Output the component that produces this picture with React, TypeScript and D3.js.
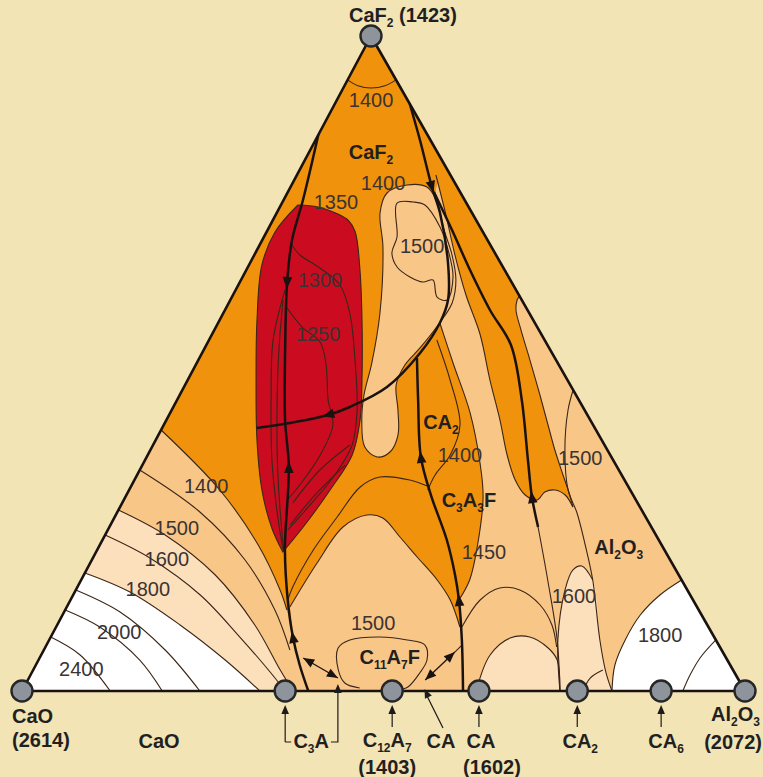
import React from 'react';
import * as d3 from 'd3';

// Compositions are [r, f]: r = 100·Al2O3/(CaO+Al2O3), f = CaF2 content, both in %.
type P = [number, number];

const W = 763;
const H = 777;

const fScale = d3.scaleLinear().domain([0, 100]).range([691, 36]);
const leftX = d3.scaleLinear().domain([0, 100]).range([22, 371]);
const rightX = d3.scaleLinear().domain([0, 100]).range([745, 371]);

function proj([r, f]: P): [number, number] {
  const xl = leftX(f);
  const xr = rightX(f);
  return [xl + (r / 100) * (xr - xl), fScale(f)];
}

// ---- compounds on the CaO–Al2O3 join (and the CaF2 apex) ----
const compounds = [
  { name: 'CaO', r: 0 },
  { name: 'C3A', r: 36.4 },
  { name: 'C12A7', r: 51.2 },
  { name: 'CA', r: 63.2 },
  { name: 'CA2', r: 76.8 },
  { name: 'CA6', r: 88.4 },
  { name: 'Al2O3', r: 100 },
];
const apex: P = [50, 100];

// ---- isotherms in the CaO field ----
const iso1400CaO: P[] = [[0, 39.85], [18.1, 30.69], [28.2, 22.29], [33.4, 15.42], [35.0, 12.37]];
const iso1450CaO: P[] = [[0, 33.74], [15.7, 27.33], [26.5, 20.0], [33.1, 12.37], [36.3, 6.26]];
const iso1500CaO: P[] = [[0, 27.63], [10.9, 23.82], [22.1, 17.71], [30.4, 10.08], [35.3, 3.21], [37.5, 0]];
const iso1600CaO: P[] = [[0, 23.82], [9.9, 20.31], [20.6, 14.66], [28.5, 8.24], [33.9, 2.9], [36.4, 0]];
const iso1800CaO: P[] = [[0, 18.02], [9.0, 15.11], [18.9, 10.08], [27.1, 4.73], [32.9, 0]];
const iso1900CaO: P[] = [[0, 15.42], [8.8, 12.06], [17.9, 6.26], [24.6, 0]];
const iso2000CaO: P[] = [[0, 12.37], [6.7, 9.77], [14.7, 4.73], [19.4, 0]];
const iso2400CaO: P[] = [[0, 8.24], [5.7, 5.5], [12.2, 0]];

// ---- field boundaries (heavy lines) ----
const bCaF2CaO: P[] = [[0, 84.89], [10.7, 74.96], [13.2, 68.85], [17.5, 62.29], [23.5, 52.06], [28.0, 41.37],
  [31.0, 34.2], [33.1, 21.53], [34.9, 13.89], [36.5, 8.24], [38.0, 3.97], [39.6, 0]];
const bCaF2Arc: P[] = [[100, 89.62], [90.9, 84.12], [84.8, 76.95], [83.6, 72.98], [79.0, 65.34], [74.7, 59.69],
  [70.0, 56.18], [62.3, 51.6], [52.4, 46.41], [43.1, 43.36], [38.0, 42.14], [29.3, 40.92], [21.9, 40.15]];
const bC3A3F: P[] = [[61.2, 50.84], [60.0, 44.43], [59.0, 35.73], [60.1, 29.92], [61.9, 23.05], [62.4, 17.71],
  [62.4, 13.89], [61.9, 7.79], [61.0, 0]];
const bCA2Heavy: P[] = [[84.8, 76.18], [86.1, 70.38], [86.6, 64.27], [87.6, 58.17], [89.3, 52.82], [85.8, 44.43],
  [81.8, 35.27], [79.9, 29.62], [79.1, 25.04]];
const bCA2Light: P[] = [[79.1, 25.04], [77.7, 16.95], [76.2, 7.79], [74.4, 0]];

// ---- primary-field regions ----
const redField: P[] = [[9.1, 74.2], [20.2, 73.89], [31.5, 72.82], [36.9, 71.91], [40.9, 70.15], [44.0, 64.27],
  [45.4, 56.64], [45.9, 47.48], [45.7, 41.37], [44.2, 36.03], [40.1, 30.69], [36.0, 25.34], [32.8, 21.22]];
const redFieldLeft: P[] = [[32.8, 21.22], [30.0, 24.89], [26.5, 30.69], [22.7, 38.32], [18.0, 47.48],
  [11.9, 56.64], [5.1, 65.04], [3.9, 70.08], [9.1, 74.2]];
const ca2Blob: P[] = [[57.5, 76.03], [70.2, 77.25], [81.8, 76.95], [84.3, 74.96], [82.4, 70.38], [81.8, 66.56],
  [79.8, 62.75], [75.8, 59.24], [69.3, 55.88], [62.5, 52.37], [57.6, 49.77], [54.8, 46.72], [54.8, 42.9], [54.4, 39.08],
  [52.4, 36.49], [49.6, 35.73], [46.9, 37.25], [46.1, 41.37], [46.5, 45.19], [48.5, 50.08], [51.2, 57.71],
  [53.4, 67.79], [52.9, 72.98]];
const c12a7Top: P[] = [[35.4, 12.82], [39.0, 19.54], [43.1, 25.04], [47.5, 26.87], [50.5, 26.41], [53.5, 23.51],
  [56.3, 20.46], [59.3, 16.95], [61.0, 13.89], [61.9, 9.77]];
const c3a3fEdge: P[] = [[70.0, 56.18], [71.0, 50.08], [72.1, 42.44], [71.4, 34.81], [70.3, 29.62], [67.1, 21.98],
  [64.7, 16.95], [62.4, 13.89]];
const rightTop: P[] = [[70.0, 56.18], [74.7, 59.69], [79.0, 65.34], [83.6, 72.98], [86.5, 76.5], [100, 80.0]];
const ca2StripeLeft: P[] = [[90.6, 78.78], [86.2, 72.67], [83.0, 66.56], [81.5, 60.46], [81.4, 54.5], [79.6, 47.48],
  [78.7, 41.37], [77.7, 36.03], [77.7, 32.21], [78.7, 29.92], [80.7, 29.16], [82.8, 30.38], [85.0, 30.69],
  [86.6, 29.92], [87.1, 28.09]];
const ca2StripeRight: P[] = [[87.1, 28.09], [87.5, 29.92], [87.9, 32.98], [88.5, 36.79], [89.5, 40.61], [90.9, 45.19],
  [92.7, 50.53], [94.5, 55.11], [96.2, 58.17], [98.4, 59.69], [100, 60.31]];
const paleCA: P[] = [[63.0, 0.46], [65.7, 5.5], [69.2, 8.09], [72.2, 8.24], [74.5, 6.56], [75.3, 4.73], [74.4, 0]];
const paleCA2: P[] = [[74.4, 0], [76.3, 7.79], [80.0, 15.42], [82.5, 18.47], [84.3, 19.08], [85.2, 16.95],
  [82.6, 7.79], [81.7, 2.75], [81.6, 0]];
const al2o3Edge: P[] = [[100, 45.95], [96.0, 42.9], [90.7, 36.79], [87.6, 30.69], [87.4, 27.18], [86.4, 22.29],
  [85.2, 16.95], [82.6, 7.79], [81.7, 2.75], [81.6, 0]];
const white1800: P[] = [[100, 16.95], [95.1, 14.66], [90.4, 11.6], [86.4, 7.79], [83.4, 3.97], [81.6, 0]];

// ---- other isotherms ----
const iso1400Apex: P[] = [[0, 93.3], [24.6, 92.4], [48.3, 92.06], [73.6, 92.4], [100, 93.3]];
const iso1300: P[] = [[14.0, 68.09], [18.9, 66.56], [28.3, 64.58], [37.0, 61.98], [41.5, 57.4], [43.8, 50.53],
  [44.9, 42.9], [44.1, 37.56], [40.8, 32.98], [36.5, 28.4], [33.0, 24.58]];
const iso1250: P[] = [[19.3, 58.93], [26.8, 55.57], [33.2, 53.28], [35.9, 49.77], [37.6, 44.43], [39.4, 40.61],
  [37.3, 36.03], [33.9, 31.45], [31.9, 29.16]];
const isoRedA: P[] = [[43.6, 37.56], [37.6, 33.74], [33.1, 28.7]];
const isoRedB: P[] = [[42.8, 34.5], [37.2, 29.92], [33.3, 25.34]];
const isoRedC: P[] = [[18.1, 59.69], [21.7, 52.06], [25.5, 42.9], [28.8, 33.74], [31.9, 24.58], [32.9, 21.53]];
const isoRedD: P[] = [[17.6, 61.22], [19.1, 53.59], [23.4, 44.43], [27.1, 35.27], [30.9, 26.11], [32.8, 21.53]];
const iso1500Loop: P[] = [[62.4, 74.5], [71.2, 74.66], [77.2, 74.2], [81.0, 70.84], [80.9, 67.33], [79.1, 63.21],
  [74.4, 59.69], [71.2, 60.15], [71.3, 62.75], [67.4, 62.44], [62.9, 63.21], [58.5, 64.73], [57.0, 66.87], [60.0, 69.31]];
const iso1400C3A3F: P[] = [[59.6, 31.3], [56.2, 32.21], [50.1, 32.67], [46.1, 31.15], [41.9, 26.56], [38.1, 21.53],
  [35.4, 15.88], [34.9, 13.89]];
const isoCA2: P[] = [[67.9, 53.59], [69.1, 47.48], [69.0, 40.61], [65.4, 36.03], [61.5, 32.98], [59.6, 30.69]];
const iso1500C11A7F: P[] = [[46.7, 0.46], [44.6, 1.22], [43.6, 3.21], [43.4, 6.56], [45.1, 7.79], [49.6, 8.24],
  [53.7, 7.79], [56.3, 7.02], [56.4, 4.73], [55.2, 2.75], [53.4, 0.61], [52.0, 0.15]];
const isoCAdome: P[] = [[62.2, 9.77], [65.8, 13.89], [69.4, 15.73], [72.6, 15.42], [75.2, 13.13], [76.1, 10.08], [75.8, 6.72]];
const isoCA2small: P[] = [[77.6, 0], [79.2, 1.98], [81.4, 3.21]];
const isoWhite: P[] = [[100, 7.79], [96.2, 5.04], [93.5, 2.44], [91.4, 0]];

// ---- crystallisation paths (double arrows) ----
const pathC3A: P[] = [[38.4, 5.04], [43.6, 1.98]];
const pathCA: P[] = [[55.9, 1.68], [60.6, 5.95]];
const pathCAext: P[] = [[60.6, 5.95], [61.8, 7.02]];

// ---- labels ----
const tempLabels: { t: string; at: P }[] = [
  { t: '1400', at: [48.3, 90.2] },
  { t: '1400', at: [55.7, 77.6] },
  { t: '1350', at: [29.1, 74.7] },
  { t: '1500', at: [70.3, 67.9] },
  { t: '1300', at: [29.3, 62.75] },
  { t: '1250', at: [32.2, 54.5] },
  { t: '1400', at: [67.5, 36.0] },
  { t: '1450', at: [68.1, 21.2] },
  { t: '1500', at: [93.2, 35.6] },
  { t: '1600', at: [81.1, 14.5] },
  { t: '1800', at: [92.0, 8.55] },
  { t: '1500', at: [48.6, 10.4] },
  { t: '1400', at: [15.1, 31.3] },
  { t: '1500', at: [12.5, 24.9] },
  { t: '1600', at: [12.9, 20.15] },
  { t: '1800', at: [11.7, 15.6] },
  { t: '2000', at: [10.0, 9.0] },
  { t: '2400', at: [6.8, 3.4] },
];
const fieldLabels: { t: string; at: P }[] = [
  { t: 'CaF_2', at: [48.3, 82.3] },
  { t: 'CA_2', at: [64.7, 41.1] },
  { t: 'C_3A_3F', at: [67.4, 29.2] },
  { t: 'Al_2O_3', at: [92.2, 22.0] },
  { t: 'C_{11}A_7F', at: [51.0, 5.2] },
];

const COLORS = {
  bg: '#F2E4B5',
  orange: '#F0920B',
  tan: '#F8C687',
  pale: '#FCDFBB',
  white: '#FFFFFF',
  red: '#CB0B1F',
  thin: '#3a2618',
  heavy: '#1a1210',
  node: '#8E949B',
  text: '#3b3333',
  label: '#231f1f',
};
const FONT = "'Liberation Sans', Arial, Helvetica, sans-serif";

const px = (p: P) => proj(p)[0];
const py = (p: P) => proj(p)[1];
const smoothLine = d3.line<P>().x(px).y(py).curve(d3.curveCatmullRom.alpha(0.5));
const straightLine = d3.line<P>().x(px).y(py).curve(d3.curveLinear);
const closedLine = d3.line<P>().x(px).y(py).curve(d3.curveCatmullRomClosed.alpha(0.5));

type Seg = { pts: P[]; smooth?: boolean };
function region(segs: Seg[]): string {
  let d = '';
  segs.forEach((s, i) => {
    let part = (s.smooth ? smoothLine : straightLine)(s.pts) || '';
    if (i > 0) part = part.replace(/^M/, 'L');
    d += part;
  });
  return d + 'Z';
}

function headPath(x: number, y: number, angle: number, len = 12, half = 4.8): string {
  const c = Math.cos(angle);
  const s = Math.sin(angle);
  const bx = x - c * len;
  const by = y - s * len;
  return `M${x},${y}L${bx - s * half},${by + c * half}L${bx + s * half},${by - c * half}Z`;
}

function arrowOn(pts: P[], i: number, dir: 1 | -1): string {
  const a = proj(pts[Math.max(0, i - 1)]);
  const b = proj(pts[Math.min(pts.length - 1, i + 1)]);
  let ang = Math.atan2(b[1] - a[1], b[0] - a[0]);
  if (dir < 0) ang += Math.PI;
  const [x, y] = proj(pts[i]);
  const c = Math.cos(ang);
  const s = Math.sin(ang);
  return headPath(x + c * 6, y + s * 6, ang);
}

function Formula(props: { text: string; x: number; y: number; size: number; anchor?: string; weight?: string | number; fill?: string }) {
  const { text, x, y, size, anchor = 'middle', weight = 'bold', fill = COLORS.label } = props;
  const parts: { t: string; sub: boolean }[] = [];
  const re = /_\{([^}]+)\}|_(\w)/g;
  let last = 0;
  let m: RegExpExecArray | null;
  while ((m = re.exec(text))) {
    if (m.index > last) parts.push({ t: text.slice(last, m.index), sub: false });
    parts.push({ t: m[1] ?? m[2], sub: true });
    last = re.lastIndex;
  }
  if (last < text.length) parts.push({ t: text.slice(last), sub: false });
  const shift = size * 0.26;
  let wasSub = false;
  return (
    <text x={x} y={y} fontSize={size} fontFamily={FONT} fontWeight={weight} textAnchor={anchor} fill={fill}>
      {parts.map((p, i) => {
        let dy = 0;
        if (p.sub && !wasSub) dy = shift;
        if (!p.sub && wasSub) dy = -shift;
        wasSub = p.sub;
        return (
          <tspan key={i} dy={dy} fontSize={p.sub ? size * 0.6 : size}>
            {p.t}
          </tspan>
        );
      })}
    </text>
  );
}

export default function App() {
  const corners: P[] = [[0, 0], [100, 0], apex];
  const triD = straightLine(corners) + 'Z';

  const redD = region([{ pts: redField, smooth: true }, { pts: redFieldLeft, smooth: true }]);
  const stripeD = region([
    { pts: ca2StripeLeft, smooth: true },
    { pts: ca2StripeRight, smooth: true },
    { pts: [[108, 60.31], [108, 82], [90.6, 78.78]] },
  ]);

  const fills: { d: string; fill: string }[] = [
    { d: triD, fill: COLORS.orange },
    { d: region([{ pts: [...iso1400CaO, [36.5, 8.24], [38.0, 3.97], [39.6, 0]], smooth: true }, { pts: [[39.6, -6], [-8, -6], [-8, 39.85]] }]), fill: COLORS.tan },
    { d: region([{ pts: iso1500CaO, smooth: true }, { pts: [[37.5, -6], [-8, -6], [-8, 27.63]] }]), fill: COLORS.pale },
    { d: region([{ pts: iso1800CaO, smooth: true }, { pts: [[32.9, -6], [-8, -6], [-8, 18.02]] }]), fill: COLORS.white },
    { d: redD, fill: COLORS.red },
    { d: closedLine(ca2Blob) || '', fill: COLORS.tan },
    { d: region([{ pts: c12a7Top, smooth: true }, { pts: [[61.9, 7.79], [61.0, 0], [61.0, -6], [39.6, -6], [39.6, 0], [38.0, 3.97], [36.5, 8.24]] }]), fill: COLORS.tan },
    { d: region([{ pts: rightTop, smooth: true }, { pts: [[108, 80], [108, -6], [61, -6], [61, 0], [61.9, 7.79]] }, { pts: [...c3a3fEdge].reverse(), smooth: true }]), fill: COLORS.tan },
    { d: stripeD, fill: COLORS.orange },
    { d: region([{ pts: paleCA, smooth: true }, { pts: [[74.4, -6], [63, -6]] }]), fill: COLORS.pale },
    { d: region([{ pts: paleCA2, smooth: true }, { pts: [[81.6, -6], [74.4, -6]] }]), fill: COLORS.pale },
    { d: region([{ pts: white1800, smooth: true }, { pts: [[81.6, -6], [108, -6], [108, 16.95]] }]), fill: COLORS.white },
  ];

  const thinOpen: P[][] = [
    iso1400CaO, iso1450CaO, iso1500CaO, iso1600CaO, iso1800CaO, iso1900CaO, iso2000CaO, iso2400CaO,
    iso1400Apex, iso1300, iso1250, isoRedA, isoRedB, isoRedC, isoRedD, iso1400C3A3F, isoCA2,
    iso1500C11A7F, isoCAdome, isoCA2small, isoWhite, c12a7Top, c3a3fEdge, al2o3Edge, white1800,
    paleCA, paleCA2.slice(0, 6), bCA2Light, pathCAext, ca2StripeLeft, ca2StripeRight,
  ];
  const thinClosed: string[] = [redD, closedLine(ca2Blob) || '', closedLine(iso1500Loop) || ''];
  const heavy: P[][] = [bCaF2CaO, bCaF2Arc, bC3A3F, bCA2Heavy];

  const heads: string[] = [
    arrowOn(bCaF2CaO, 3, 1),
    arrowOn(bCaF2CaO, 6, -1),
    arrowOn(bCaF2CaO, 9, -1),
    arrowOn(bCaF2Arc, 2, 1),
    arrowOn(bCaF2Arc, 10, 1),
    arrowOn(bC3A3F, 2, -1),
    arrowOn(bC3A3F, 6, -1),
    arrowOn(bCA2Heavy, 7, -1),
  ];

  const dbl = [pathC3A, pathCA].map((pp) => {
    const a = proj(pp[0]);
    const b = proj(pp[1]);
    const ang = Math.atan2(b[1] - a[1], b[0] - a[0]);
    return {
      line: `M${a[0]},${a[1]}L${b[0]},${b[1]}`,
      h1: headPath(b[0], b[1], ang, 11, 4.5),
      h2: headPath(a[0], a[1], ang + Math.PI, 11, 4.5),
    };
  });

  const base = (r: number) => proj([r, 0])[0];
  const xC3A = base(36.4);
  const xC12A7 = base(51.2);
  const xCA = base(63.2);
  const xCA2 = base(76.8);
  const xCA6 = base(88.4);
  const xPathEnd = proj(pathC3A[1])[0];
  const [caTipX, caTipY] = proj([55.6, 0.9]);

  const annot = '#1d1a1a';
  const up = -Math.PI / 2;

  return (
    <svg width={W} height={H} viewBox={`0 0 ${W} ${H}`} style={{ display: 'block', position: 'absolute', left: 0, top: 0 }}>
      <rect x={0} y={0} width={W} height={H} fill={COLORS.bg} />
      <defs>
        <clipPath id="tri">
          <path d={triD} />
        </clipPath>
      </defs>
      <g clipPath="url(#tri)">
        {fills.map((f, i) => (
          <path key={i} d={f.d} fill={f.fill} stroke="none" />
        ))}
        {thinOpen.map((pts, i) => (
          <path key={'o' + i} d={smoothLine(pts) || ''} fill="none" stroke={COLORS.thin} strokeWidth={1.1} />
        ))}
        {thinClosed.map((d, i) => (
          <path key={'c' + i} d={d} fill="none" stroke={COLORS.thin} strokeWidth={1.1} />
        ))}
        {heavy.map((pts, i) => (
          <path key={'h' + i} d={smoothLine(pts) || ''} fill="none" stroke={COLORS.heavy} strokeWidth={2.5} strokeLinejoin="round" />
        ))}
        {heads.map((d, i) => (
          <path key={'a' + i} d={d} fill={COLORS.heavy} />
        ))}
        {dbl.map((o, i) => (
          <g key={'d' + i}>
            <path d={o.line} stroke={COLORS.heavy} strokeWidth={1.3} fill="none" />
            <path d={o.h1} fill={COLORS.heavy} />
            <path d={o.h2} fill={COLORS.heavy} />
          </g>
        ))}
      </g>
      <path d={triD} fill="none" stroke={COLORS.heavy} strokeWidth={2.6} strokeLinejoin="round" />

      {tempLabels.map((l, i) => {
        const [x, y] = proj(l.at);
        return (
          <text key={'t' + i} x={x} y={y} dy="0.36em" textAnchor="middle" fontFamily={FONT} fontSize={20} fill={COLORS.text}>
            {l.t}
          </text>
        );
      })}
      {fieldLabels.map((l, i) => {
        const [x, y] = proj(l.at);
        return <Formula key={'f' + i} text={l.t} x={x} y={y + 7} size={20} />;
      })}

      {/* compound markers */}
      {[...compounds.map((c) => proj([c.r, 0])), proj(apex)].map(([x, y], i) => (
        <circle key={'n' + i} cx={x} cy={y} r={10.5} fill={COLORS.node} stroke="#262626" strokeWidth={2.4} />
      ))}

      {/* join annotations */}
      <g stroke={annot} strokeWidth={1.2} fill="none">
        <path d={`M${xC3A},${742}L${xC3A},${712}M${xC3A},${742}L${xC3A + 6},${742}`} />
        <path d={`M${xPathEnd - 7},${742}L${xPathEnd},${742}L${xPathEnd},${690}`} />
        <path d={`M${xC12A7},${727}L${xC12A7},${712}`} />
        <path d={`M${443},${728}L${caTipX + 3},${caTipY + 10}`} />
        <path d={`M${xCA},${727}L${xCA},${712}`} />
        <path d={`M${xCA2},${727}L${xCA2},${712}`} />
        <path d={`M${xCA6},${727}L${xCA6},${712}`} />
      </g>
      <g fill={annot}>
        <path d={headPath(xC3A, 705, up, 9, 3.8)} />
        <path d={headPath(xPathEnd, 684, up, 9, 3.8)} />
        <path d={headPath(xC12A7, 705, up, 9, 3.8)} />
        <path d={headPath(caTipX + 1, caTipY + 4, Math.atan2((caTipY + 4) - 728, (caTipX + 1) - 443), 9, 3.8)} />
        <path d={headPath(xCA, 705, up, 9, 3.8)} />
        <path d={headPath(xCA2, 705, up, 9, 3.8)} />
        <path d={headPath(xCA6, 705, up, 9, 3.8)} />
      </g>

      <Formula text="CaF_2 (1423)" x={349} y={22} size={20} anchor="start" />
      <Formula text="CaO" x={12} y={723} size={20} anchor="start" />
      <Formula text="(2614)" x={12} y={747} size={20} anchor="start" />
      <Formula text="CaO" x={159} y={748} size={20} />
      <Formula text="C_3A" x={xC3A + 26} y={748} size={20} />
      <Formula text="C_{12}A_7" x={xC12A7 - 5} y={747} size={20} />
      <Formula text="(1403)" x={xC12A7 - 5} y={774} size={20} />
      <Formula text="CA" x={441} y={748} size={20} />
      <Formula text="CA" x={xCA + 2} y={748} size={20} />
      <Formula text="(1602)" x={xCA + 13} y={774} size={20} anchor="middle" />
      <Formula text="CA_2" x={xCA2 + 3} y={748} size={20} />
      <Formula text="CA_6" x={xCA6 + 5} y={748} size={20} />
      <Formula text="Al_2O_3" x={760} y={721} size={20} anchor="end" />
      <Formula text="(2072)" x={762} y={749} size={20} anchor="end" />
    </svg>
  );
}
